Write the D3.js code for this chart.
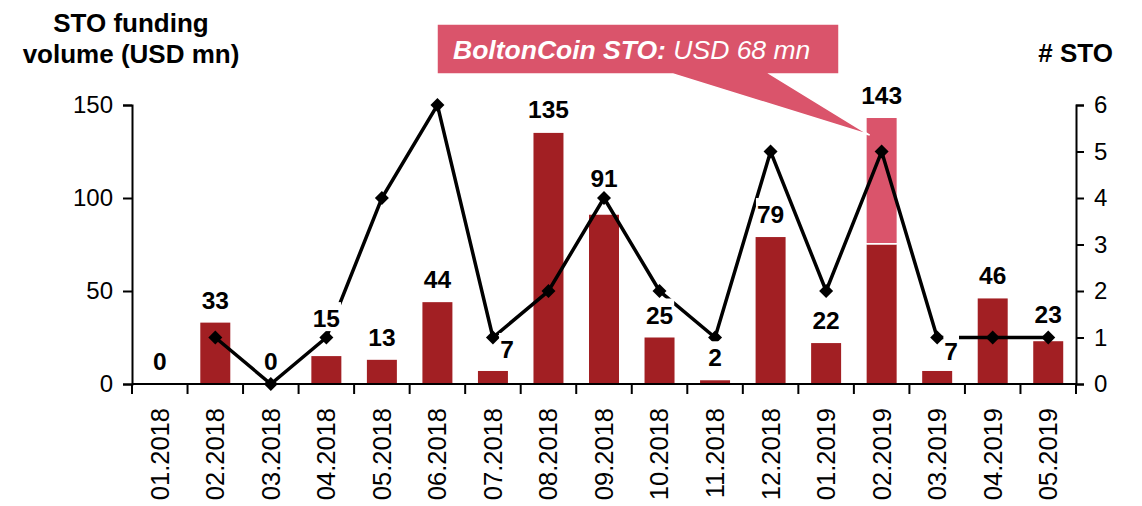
<!DOCTYPE html>
<html>
<head>
<meta charset="utf-8">
<script src="https://cdn.jsdelivr.net/npm/d3@7"></script>
<style>
  body { margin: 0; background: #fff; }
  svg text { font-family: "Liberation Sans", Arial, sans-serif; }
</style>
</head>
<body>
<div id="container"></div>
<script>
let months = ["01.2018", "02.2018", "03.2018", "04.2018", "05.2018", "06.2018", "07.2018", "08.2018", "09.2018",
    "10.2018", "11.2018", "12.2018", "01.2019", "02.2019", "03.2019", "04.2019", "05.2019"];
// funding volume, USD mn (total) and the BoltonCoin part of 02.2019
let volume = [0, 33, 0, 15, 13, 44, 7, 135, 91, 25, 2, 79, 22, 143, 7, 46, 23];
let bolton = [0, 0, 0, 0, 0, 0, 0, 0, 0, 0, 0, 0, 0, 68, 0, 0, 0];
// number of STOs
let stoCount = [null, 1, 0, 1, 4, 6, 1, 2, 4, 2, 1, 5, 2, 5, 1, 1, 1];
let leftTicks = [0, 50, 100, 150];
let rightTicks = [0, 1, 2, 3, 4, 5, 6];

let W = 1142, H = 506;
let plotL = 132, plotR = 1076, plotT = 105, plotB = 384;
let DARK = "#a21f23", PINK = "#da546b";

// label tweaks (dx, extra dy) where the original nudged them off the default spot
let nudge = { "04.2018": [0, -15], "07.2018": [14, 1], "09.2018": [0, -14], "03.2019": [14, 3], "05.2019": [0, -4], "08.2018": [0, -1] };

let svg = d3.select("#container").append("svg")
    .attr("width", W).attr("height", H);

let x = d3.scaleBand().domain(months).range([plotL, plotR])
    .paddingInner(0.46).paddingOuter(0.23);
let y = d3.scaleLinear().domain([0, 150]).range([plotB, plotT]);
let y2 = d3.scaleLinear().domain([0, 6]).range([plotB, plotT]);
let cx = m => x(m) + x.bandwidth() / 2;

// bars: dark part, then BoltonCoin on top
let rows = months.map((m, i) => ({ m: m, total: volume[i], own: volume[i] - bolton[i], bolton: bolton[i], n: stoCount[i] }));
svg.append("g").selectAll("rect").data(rows).join("rect")
    .attr("x", d => x(d.m)).attr("width", x.bandwidth())
    .attr("y", d => y(d.own)).attr("height", d => y(0) - y(d.own))
    .attr("fill", DARK);
svg.append("g").selectAll("rect").data(rows.filter(d => d.bolton > 0)).join("rect")
    .attr("x", d => x(d.m)).attr("width", x.bandwidth())
    .attr("y", d => y(d.total)).attr("height", d => y(d.own) - y(d.total) - 1.5)
    .attr("fill", PINK);
svg.append("g").selectAll("line").data(rows.filter(d => d.bolton > 0)).join("line")
    .attr("x1", d => x(d.m)).attr("x2", d => x(d.m) + x.bandwidth())
    .attr("y1", d => y(d.own) - 0.75).attr("y2", d => y(d.own) - 0.75)
    .attr("stroke", "#fff").attr("stroke-width", 1.5);

// axes
let yAxis = svg.append("g").attr("transform", `translate(${plotL},0)`)
    .call(d3.axisLeft(y).tickValues(leftTicks).tickSize(9).tickPadding(10));
let yAxis2 = svg.append("g").attr("transform", `translate(${plotR},0)`)
    .call(d3.axisRight(y2).tickValues(rightTicks).tickFormat(d3.format("d")).tickSize(8).tickPadding(10));
let xAxis = svg.append("g").attr("transform", `translate(0,${plotB})`)
    .call(d3.axisBottom(x).tickSize(0).tickPadding(0));
[yAxis, yAxis2, xAxis].forEach(g => {
    g.select(".domain").attr("stroke", "#000").attr("stroke-width", 2);
    g.selectAll(".tick line").attr("stroke", "#000").attr("stroke-width", 2);
    g.selectAll("text").attr("fill", "#000").style("font-size", "24px");
});
xAxis.select(".domain").attr("d", `M${plotL},0H${plotR}`);
xAxis.selectAll("text")
    .style("font-size", "25.5px")
    .attr("text-anchor", "end")
    .attr("dy", "0.35em")
    .attr("transform", "translate(0,24) rotate(-90)");
// ticks between categories
let bounds = d3.range(months.length + 1).map(i => plotL + i * x.step());
svg.append("g").selectAll("line").data(bounds).join("line")
    .attr("x1", d => d).attr("x2", d => d)
    .attr("y1", plotB).attr("y2", plotB + 10)
    .attr("stroke", "#000").attr("stroke-width", 2);

// line of STO counts
let pts = rows.filter(d => d.n !== null);
svg.append("path").datum(pts)
    .attr("fill", "none").attr("stroke", "#000").attr("stroke-width", 3.5)
    .attr("stroke-linejoin", "miter")
    .attr("d", d3.line().x(d => cx(d.m)).y(d => y2(d.n)));
svg.append("g").selectAll("path").data(pts).join("path")
    .attr("d", "M0,-7L7,0L0,7L-7,0Z")
    .attr("transform", d => `translate(${cx(d.m)},${y2(d.n)})`)
    .attr("fill", "#000");

// value labels with white boxes (they hide the line underneath)
let lab = svg.append("g").selectAll("g").data(rows).join("g")
    .attr("transform", d => {
        let nd = nudge[d.m] || [0, 0];
        return `translate(${cx(d.m) + nd[0]},${y(d.total) - 14 + nd[1]})`;
    });
lab.append("rect").attr("fill", "#fff");
lab.append("text")
    .attr("text-anchor", "middle")
    .style("font-size", "24.5px").style("font-weight", "bold")
    .text(d => d.total);
lab.each(function () {
    let g = d3.select(this);
    let b = g.select("text").node().getBBox();
    g.select("rect").attr("x", b.x - 1).attr("y", b.y - 3)
        .attr("width", b.width + 2).attr("height", b.height + 2);
});

// titles
svg.append("text").attr("x", 131).attr("y", 32).attr("text-anchor", "middle")
    .style("font-size", "26px").style("font-weight", "bold")
    .selectAll("tspan").data(["STO funding", "volume (USD mn)"]).join("tspan")
    .attr("x", 131).attr("dy", (d, i) => i ? 31 : 0).text(d => d);
svg.append("text").attr("x", 1113).attr("y", 62).attr("text-anchor", "end")
    .style("font-size", "26px").style("font-weight", "bold").text("# STO");

// callout for BoltonCoin
let bx = cx("02.2019");
let tip = [bx - 12, y(143) + 17];
svg.append("path")
    .attr("d", `M437,24H839V74H770L${tip[0]},${tip[1]}L673,74H437Z`)
    .attr("fill", PINK).attr("stroke", "#fff").attr("stroke-width", 1.5);
let ct = svg.append("text").attr("x", 453).attr("y", 59)
    .style("font-size", "26.5px").style("font-style", "italic").attr("fill", "#fff");
ct.append("tspan").style("font-weight", "bold").text("BoltonCoin STO:");
ct.append("tspan").text(" USD 68 mn");
</script>
</body>
</html>
